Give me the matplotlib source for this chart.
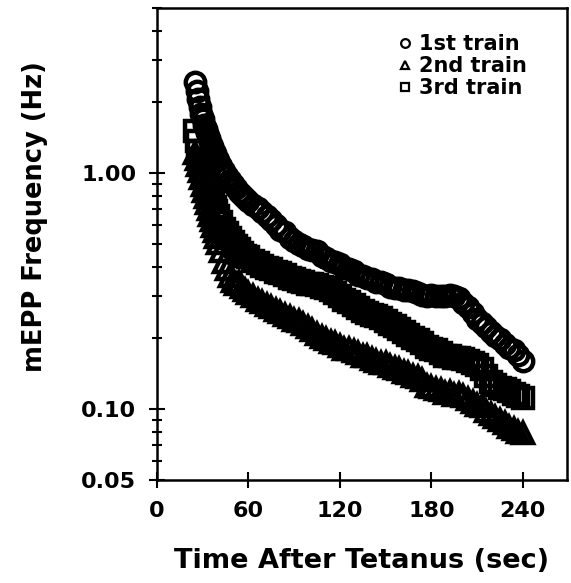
import numpy as np
import matplotlib
matplotlib.use('Agg')
import matplotlib.pyplot as plt
from matplotlib.ticker import FixedLocator, NullFormatter, NullLocator

# Time after tetanus (sec): 1 s early, then coarser
time_s = [25, 26, 27, 28, 29, 30, 31, 32, 33, 34, 35, 36, 37, 38, 39, 40,
          42, 44, 46, 48, 50, 52, 54, 56, 58, 60,
          63, 66, 69, 72, 75, 78, 81, 84, 87, 90, 93, 96, 99, 102, 105, 108,
          111, 114, 117, 120, 123, 126, 129, 132, 135, 138, 141, 144, 147,
          150, 153, 156, 159, 162, 165, 168, 171, 174, 177, 180, 183, 186,
          189, 192, 195, 198, 201, 204, 207, 210, 213, 216, 219, 222, 225,
          228, 231, 234, 237, 240]

# mEPP frequency (Hz)
train1 = [2.43, 2.22, 2.05, 1.90, 1.78, 1.69, 1.60, 1.53, 1.47, 1.40, 1.35,
          1.30, 1.25, 1.21, 1.17, 1.13,
          1.07, 1.02, 0.97, 0.93, 0.90, 0.86, 0.83, 0.81, 0.78, 0.76,
          0.73, 0.71, 0.68, 0.66, 0.63, 0.60, 0.575, 0.56, 0.53, 0.515,
          0.50, 0.49, 0.475, 0.47, 0.465, 0.445, 0.435, 0.425, 0.42, 0.41,
          0.395, 0.39, 0.385, 0.37, 0.365, 0.36, 0.355, 0.345, 0.345, 0.34,
          0.33, 0.325, 0.325, 0.318, 0.32, 0.315, 0.31, 0.305, 0.30, 0.305,
          0.30, 0.302, 0.30, 0.305, 0.30, 0.295, 0.28, 0.27, 0.255, 0.24,
          0.232, 0.222, 0.212, 0.203, 0.198, 0.188, 0.182, 0.178, 0.17, 0.16]

train2 = [1.22, 1.15, 1.08, 1.02, 0.95, 0.89, 0.84, 0.79, 0.745, 0.70, 0.665,
          0.63, 0.595, 0.565, 0.535, 0.505,
          0.465, 0.42, 0.39, 0.365, 0.35, 0.34, 0.345, 0.33, 0.318, 0.31,
          0.30, 0.29, 0.283, 0.275, 0.27, 0.262, 0.258, 0.25, 0.245, 0.238,
          0.235, 0.228, 0.222, 0.215, 0.207, 0.202, 0.197, 0.192, 0.19, 0.185,
          0.18, 0.18, 0.176, 0.172, 0.168, 0.167, 0.162, 0.16, 0.157, 0.156,
          0.152, 0.149, 0.148, 0.144, 0.142, 0.138, 0.137, 0.132, 0.125,
          0.124, 0.122, 0.12, 0.117, 0.118, 0.115, 0.116, 0.114, 0.11, 0.107,
          0.104, 0.103, 0.098, 0.095, 0.092, 0.09, 0.087, 0.084, 0.082, 0.08,
          0.079]

train3 = [1.50, 1.36, 1.24, 1.15, 1.08, 1.03, 0.98, 0.93, 0.89, 0.85, 0.81,
          0.78, 0.75, 0.72, 0.69, 0.66,
          0.62, 0.58, 0.555, 0.53, 0.51, 0.49, 0.475, 0.46, 0.445, 0.44,
          0.425, 0.415, 0.405, 0.395, 0.39, 0.38, 0.375, 0.37, 0.36, 0.355,
          0.35, 0.345, 0.34, 0.338, 0.335, 0.33, 0.325, 0.318, 0.31, 0.30,
          0.29, 0.283, 0.275, 0.268, 0.26, 0.255, 0.25, 0.247, 0.242, 0.237,
          0.23, 0.225, 0.218, 0.212, 0.205, 0.2, 0.195, 0.19, 0.183, 0.18,
          0.178, 0.172, 0.168, 0.167, 0.165, 0.164, 0.163, 0.16, 0.157, 0.153,
          0.148, 0.138, 0.13, 0.126, 0.123, 0.121, 0.119, 0.116, 0.113, 0.111]

series_labels = ['1st train', '2nd train', '3rd train']
x_ticks = [0, 60, 120, 180, 240]
y_ticks = [0.05, 0.10, 1.00]
y_ticklabels = ['0.05', '0.10', '1.00']
y_minor = [0.06, 0.07, 0.08, 0.09, 0.2, 0.3, 0.4, 0.5, 0.6, 0.7, 0.8, 0.9,
           2, 3, 4, 5]


def main():
    plt.rcParams['font.family'] = 'DejaVu Sans'
    plt.rcParams['font.weight'] = 'bold'
    plt.rcParams['axes.labelweight'] = 'bold'
    fig = plt.figure(figsize=(5.71, 5.83), dpi=100)
    ax = fig.add_axes([0.275, 0.1767, 0.718, 0.8096])

    marker_kw = dict(linestyle='', color='black', fillstyle='none',
                     markersize=14, markeredgewidth=3.2)
    ax.plot(time_s, train1, marker='o', label=series_labels[0], **marker_kw)
    ax.plot(time_s, train2, marker='^', label=series_labels[1], **marker_kw)
    ax.plot(time_s, train3, marker='s', label=series_labels[2], **marker_kw)

    ax.set_yscale('log')
    ax.set_xlim(0, 269)
    ax.set_ylim(0.05, 5)

    ax.xaxis.set_major_locator(FixedLocator(x_ticks))
    ax.xaxis.set_minor_locator(NullLocator())
    ax.yaxis.set_major_locator(FixedLocator(y_ticks))
    ax.set_yticklabels(y_ticklabels)
    ax.yaxis.set_minor_locator(FixedLocator(y_minor))
    ax.yaxis.set_minor_formatter(NullFormatter())

    ax.tick_params(which='major', direction='inout', length=12, width=1.5,
                   labelsize=16)
    ax.tick_params(axis='y', which='major', pad=9)
    ax.tick_params(axis='x', which='major', pad=9)
    ax.tick_params(which='minor', direction='inout', length=7, width=1.5)
    for sp in ax.spines.values():
        sp.set_linewidth(1.8)

    ax.set_xlabel('Time After Tetanus (sec)', fontsize=19.5)
    ax.set_ylabel('mEPP Frequency (Hz)', fontsize=18.5)
    ax.xaxis.set_label_coords(0.5, -0.144)
    ax.yaxis.set_label_coords(-0.266, 0.558)

    # small open markers in the legend
    leg = ax.legend(loc='upper left', bbox_to_anchor=(0.565, 0.967),
                    frameon=False, fontsize=15, handlelength=0.6,
                    handletextpad=0.35, labelspacing=0.1, borderpad=0,
                    markerscale=0.45)
    for h in leg.legend_handles:
        h.set_markeredgewidth(1.6)

    fig.savefig('out.png', dpi=100)
    plt.close()


if __name__ == '__main__':
    main()
